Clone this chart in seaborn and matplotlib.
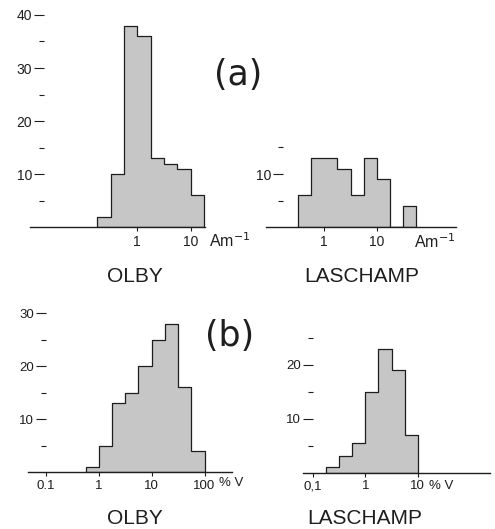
import numpy as np
import pandas as pd
import seaborn as sns
import matplotlib.pyplot as plt
from matplotlib.ticker import FixedLocator, NullLocator, FixedFormatter

# ---------------- data (bin edges given as log10 of the quantity) ----------------
olby_a_edges = [-0.75, -0.5, -0.25, 0.0, 0.25, 0.5, 0.75, 1.0, 1.25]
olby_a_counts = [2, 10, 38, 36, 13, 12, 11, 6]

lasch_a_edges = [-0.5, -0.25, 0.0, 0.25, 0.5, 0.75, 1.0, 1.25, 1.5, 1.75]
lasch_a_counts = [6, 13, 13, 11, 6, 13, 9, 0, 4]

olby_b_edges = [-0.25, 0.0, 0.25, 0.5, 0.75, 1.0, 1.25, 1.5, 1.75, 2.0]
olby_b_counts = [1, 5, 13, 15, 20, 25, 28, 16, 4]

lasch_b_edges = [-0.75, -0.5, -0.25, 0.0, 0.25, 0.5, 0.75, 1.0]
lasch_b_counts = [1, 3, 5.5, 15, 23, 19, 7]

site_labels = ["OLBY", "LASCHAMP"]
panel_labels = ["(a)", "(b)"]
unit_a = "Am$^{-1}$"
unit_b = "% V"

a_xticks = [1, 10]
a_xticklabels = ["1", "10"]
olby_b_xticks = [0.1, 1, 10, 100]
olby_b_xticklabels = ["0.1", "1", "10", "100"]
lasch_b_xticks = [0.1, 1, 10]
lasch_b_xticklabels = ["0,1", "1", "10"]

olby_a_yticks = [10, 20, 30, 40]
olby_a_yminor = [5, 15, 25, 35]
lasch_a_yticks = [10]
lasch_a_yminor = [5, 15]
olby_b_yticks = [10, 20, 30]
olby_b_yminor = [5, 15, 25]
lasch_b_yticks = [10, 20]
lasch_b_yminor = [5, 15, 25]

# ---------------- styling ----------------
sns.set_theme(style="ticks")
plt.rcParams["font.family"] = ["Liberation Sans", "DejaVu Sans"]
INK = "#1e1e1e"
FILL = "#c6c6c6"

W, H = 495, 529
fig = plt.figure(figsize=(W / 100, H / 100), dpi=100)
fig.patch.set_facecolor("white")


def make_df(edges, counts):
    e = np.asarray(edges, dtype=float)
    centers = (e[:-1] + e[1:]) / 2
    return pd.DataFrame({"value": 10 ** centers, "count": counts})


def panel(px_left, px_right, log_left, log_right, base_px, ppu, ymax,
          edges, counts, xticks, xticklabels, yticks, yminor, spine_log, fs):
    ax = fig.add_axes([px_left / W, (H - base_px) / H,
                       (px_right - px_left) / W, ymax * ppu / H])
    df = make_df(edges, counts)
    sns.histplot(data=df, x="value", weights="count", bins=list(edges),
                 log_scale=True, element="step", fill=True,
                 facecolor=FILL, edgecolor=INK, linewidth=0.9, alpha=1, ax=ax)
    ax.set_xlim(10 ** log_left, 10 ** log_right)
    ax.set_ylim(0, ymax)
    ax.set_facecolor("none")
    for s in ["top", "right", "left"]:
        ax.spines[s].set_visible(False)
    ax.spines["bottom"].set_color(INK)
    ax.spines["bottom"].set_linewidth(1.0)
    ax.spines["left"].set_position(("data", 10 ** spine_log))
    ax.xaxis.set_major_locator(FixedLocator(xticks))
    ax.xaxis.set_major_formatter(FixedFormatter(xticklabels))
    ax.xaxis.set_minor_locator(NullLocator())
    ax.yaxis.set_major_locator(FixedLocator(yticks))
    ax.yaxis.set_minor_locator(FixedLocator(yminor))
    ax.tick_params(axis="x", which="major", direction="out", length=3,
                   width=0.8, color=INK, labelsize=fs, labelcolor=INK, pad=2.5)
    ax.tick_params(axis="y", which="major", direction="out", length=7,
                   width=0.8, color=INK, labelsize=fs, labelcolor=INK, pad=1.5)
    ax.tick_params(axis="y", which="minor", direction="out", length=3.5,
                   width=0.8, color=INK)
    ax.set_xlabel("")
    ax.set_ylabel("")
    return ax


panel(30, 205, -2.01, 1.27, 227.3, 5.31, 41.5,
      olby_a_edges, olby_a_counts, a_xticks, a_xticklabels,
      olby_a_yticks, olby_a_yminor, -1.75, 10)
panel(266, 456, -1.11, 2.51, 227.3, 5.33, 16,
      lasch_a_edges, lasch_a_counts, a_xticks, a_xticklabels,
      lasch_a_yticks, lasch_a_yminor, -0.79, 10)
panel(28, 232, -1.34, 2.52, 472, 5.3, 31,
      olby_b_edges, olby_b_counts, olby_b_xticks, olby_b_xticklabels,
      olby_b_yticks, olby_b_yminor, -1.0, 9.5)
panel(303, 490, -1.19, 2.38, 472.7, 5.4, 26,
      lasch_b_edges, lasch_b_counts, lasch_b_xticks, lasch_b_xticklabels,
      lasch_b_yticks, lasch_b_yminor, -1.0, 9.5)


def ftext(x, y, s, **kw):
    fig.text(x / W, 1 - y / H, s, color=INK, **kw)


ftext(209, 241, unit_a, fontsize=11.5, ha="left", va="center")
ftext(414, 242, unit_a, fontsize=11.5, ha="left", va="center")
ftext(219, 483, unit_b, fontsize=9.5, ha="left", va="center")
ftext(429, 486, unit_b, fontsize=9.5, ha="left", va="center")

ftext(135, 276, site_labels[0], fontsize=15, ha="center", va="center")
ftext(362, 276, site_labels[1], fontsize=15, ha="center", va="center")
ftext(135, 518, site_labels[0], fontsize=15, ha="center", va="center")
ftext(365, 519, site_labels[1], fontsize=15, ha="center", va="center")

ftext(238, 75, panel_labels[0], fontsize=25, ha="center", va="center",
      family=["DejaVu Sans"])
ftext(230, 336, panel_labels[1], fontsize=25, ha="center", va="center",
      family=["DejaVu Sans"])

fig.savefig("out.png", dpi=100)
